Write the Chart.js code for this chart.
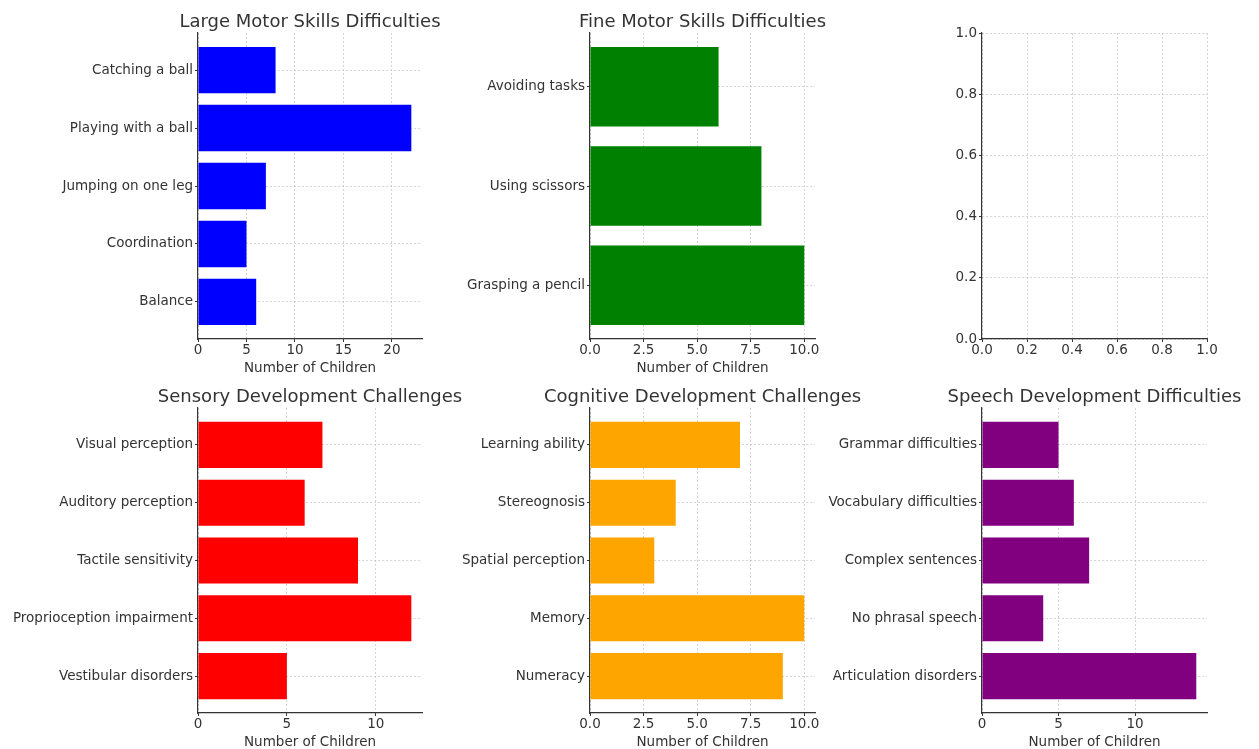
<!DOCTYPE html>
<html>
<head>
<meta charset="utf-8">
<script src="https://cdn.jsdelivr.net/npm/chart.js@4.4.1/dist/chart.umd.min.js"></script>
<style>
  body { margin: 0; background: #fff; }
  canvas { position: absolute; left: 0; top: 0; }
</style>
</head>
<body>
<canvas id="c1" width="1259" height="749"></canvas>
<canvas id="c2" width="1259" height="749"></canvas>
<canvas id="c3" width="1259" height="749"></canvas>
<canvas id="c4" width="1259" height="749"></canvas>
<canvas id="c5" width="1259" height="749"></canvas>
<canvas id="c6" width="1259" height="749"></canvas>
<script>
// data (listed top to bottom as drawn)
var largeLabels = ["Catching a ball", "Playing with a ball", "Jumping on one leg", "Coordination", "Balance"];
var largeValues = [8, 22, 7, 5, 6];
var largeTicks = [0, 5, 10, 15, 20];

var fineLabels = ["Avoiding tasks", "Using scissors", "Grasping a pencil"];
var fineValues = [6, 8, 10];
var fineTicks = [0, 2.5, 5, 7.5, 10];

var sensoryLabels = ["Visual perception", "Auditory perception", "Tactile sensitivity", "Proprioception impairment", "Vestibular disorders"];
var sensoryValues = [7, 6, 9, 12, 5];
var sensoryTicks = [0, 5, 10];

var cognitiveLabels = ["Learning ability", "Stereognosis", "Spatial perception", "Memory", "Numeracy"];
var cognitiveValues = [7, 4, 3, 10, 9];
var cognitiveTicks = [0, 2.5, 5, 7.5, 10];

var speechLabels = ["Grammar difficulties", "Vocabulary difficulties", "Complex sentences", "No phrasal speech", "Articulation disorders"];
var speechValues = [5, 6, 7, 4, 14];
var speechTicks = [0, 5, 10];

var emptyTicks = [0, 0.2, 0.4, 0.6, 0.8, 1.0];

Chart.defaults.font.family = "'DejaVu Sans', sans-serif";
Chart.defaults.color = "#333";

var W = 1259, H = 749;
var gridColor = "rgba(176,176,176,0.55)";
var axisColor = "#333";
var tickSize = 13.5;
var yLabelW = 198;   // room kept left of each plot for category labels
var xAxisH = 36;     // tick labels + "Number of Children"

// plot boxes [left, right] and [top, bottom]
var cols = [[198, 422], [590, 815], [982, 1207]];
var rows = [[33, 339], [408, 713]];

function setTicks(list) {
  return function(scale) {
    scale.ticks = list.map(function(v) { return { value: v }; });
  };
}

function padFor(col, row) {
  return {
    left: cols[col][0] - yLabelW,
    right: W - cols[col][1],
    top: rows[row][0],
    bottom: H - rows[row][1] - xAxisH
  };
}

// title centred over the plot area, like matplotlib's set_title
function titlePlugin(text) {
  return {
    id: "axTitle",
    afterDraw: function(chart) {
      var ctx = chart.ctx;
      var a = chart.chartArea;
      ctx.save();
      ctx.font = "18px 'DejaVu Sans', sans-serif";
      ctx.fillStyle = "#333";
      ctx.textAlign = "center";
      ctx.textBaseline = "alphabetic";
      ctx.fillText(text, (a.left + a.right) / 2, a.top - 6);
      ctx.restore();
    }
  };
}

function axisOpts() {
  return {
    border: { color: axisColor, width: 1.2, dash: [2, 2] },
    grid: { color: gridColor, tickColor: axisColor, tickLength: 3, tickBorderDash: [] }
  };
}

function barChart(id, col, row, title, labels, values, color, xTicks, decimals) {
  var n = labels.length;
  var margin = 0.05 * (n - 1 + 0.8);
  var idx = labels.map(function(_, i) { return i; });
  var points = values.map(function(v, i) { return { x: v, y: i }; });
  var xo = axisOpts();
  var yo = axisOpts();
  return new Chart(document.getElementById(id), {
    type: "bar",
    data: {
      datasets: [{
        data: points,
        backgroundColor: color,
        borderWidth: 0,
        categoryPercentage: 0.8,
        barPercentage: 1.0
      }]
    },
    options: {
      responsive: false,
      animation: false,
      indexAxis: "y",
      layout: { padding: padFor(col, row) },
      plugins: {
        legend: { display: false },
        tooltip: { enabled: false }
      },
      scales: {
        x: {
          type: "linear",
          min: 0,
          max: Math.max.apply(null, values) * 1.05,
          z: 1,
          afterBuildTicks: setTicks(xTicks),
          afterFit: function(s) { s.height = xAxisH; },
          border: xo.border,
          grid: xo.grid,
          ticks: { padding: 0, font: { size: tickSize }, color: "#333", maxRotation: 0,
            callback: function(v) { return decimals ? v.toFixed(decimals) : v; } },
          title: { display: true, text: "Number of Children", color: "#333", font: { size: tickSize }, padding: { top: 0, bottom: -2 } }
        },
        y: {
          type: "linear",
          reverse: true,
          offset: false,
          min: -0.4 - margin,
          max: n - 1 + 0.4 + margin,
          z: 1,
          afterBuildTicks: setTicks(idx),
          afterFit: function(s) { s.width = yLabelW; },
          border: yo.border,
          grid: Object.assign({ offset: false }, yo.grid),
          ticks: { padding: 2, font: { size: tickSize }, color: "#333",
            callback: function(v) { return labels[v]; } }
        }
      }
    },
    plugins: [titlePlugin(title)]
  });
}

// charts
barChart("c1", 0, 0, "Large Motor Skills Difficulties", largeLabels, largeValues, "#0000ff", largeTicks, 0);
barChart("c2", 1, 0, "Fine Motor Skills Difficulties", fineLabels, fineValues, "#008000", fineTicks, 1);
barChart("c4", 0, 1, "Sensory Development Challenges", sensoryLabels, sensoryValues, "#ff0000", sensoryTicks, 0);
barChart("c5", 1, 1, "Cognitive Development Challenges", cognitiveLabels, cognitiveValues, "#ffa500", cognitiveTicks, 1);
barChart("c6", 2, 1, "Speech Development Difficulties", speechLabels, speechValues, "#800080", speechTicks, 0);

// empty subplot (top right)
var ex = axisOpts();
var ey = axisOpts();
new Chart(document.getElementById("c3"), {
  type: "scatter",
  data: { datasets: [{ data: [] }] },
  options: {
    responsive: false,
    animation: false,
    layout: { padding: padFor(2, 0) },
    plugins: { legend: { display: false }, tooltip: { enabled: false } },
    scales: {
      x: {
        min: 0, max: 1,
        afterBuildTicks: setTicks(emptyTicks),
        afterFit: function(s) { s.height = xAxisH; },
        border: ex.border,
        grid: ex.grid,
        ticks: { padding: 0, font: { size: tickSize }, color: "#333", maxRotation: 0,
          callback: function(v) { return v.toFixed(1); } }
      },
      y: {
        min: 0, max: 1,
        afterBuildTicks: setTicks(emptyTicks),
        afterFit: function(s) { s.width = yLabelW; },
        border: ey.border,
        grid: ey.grid,
        ticks: { padding: 2, font: { size: tickSize }, color: "#333",
          callback: function(v) { return v.toFixed(1); } }
      }
    }
  }
});
</script>
</body>
</html>
